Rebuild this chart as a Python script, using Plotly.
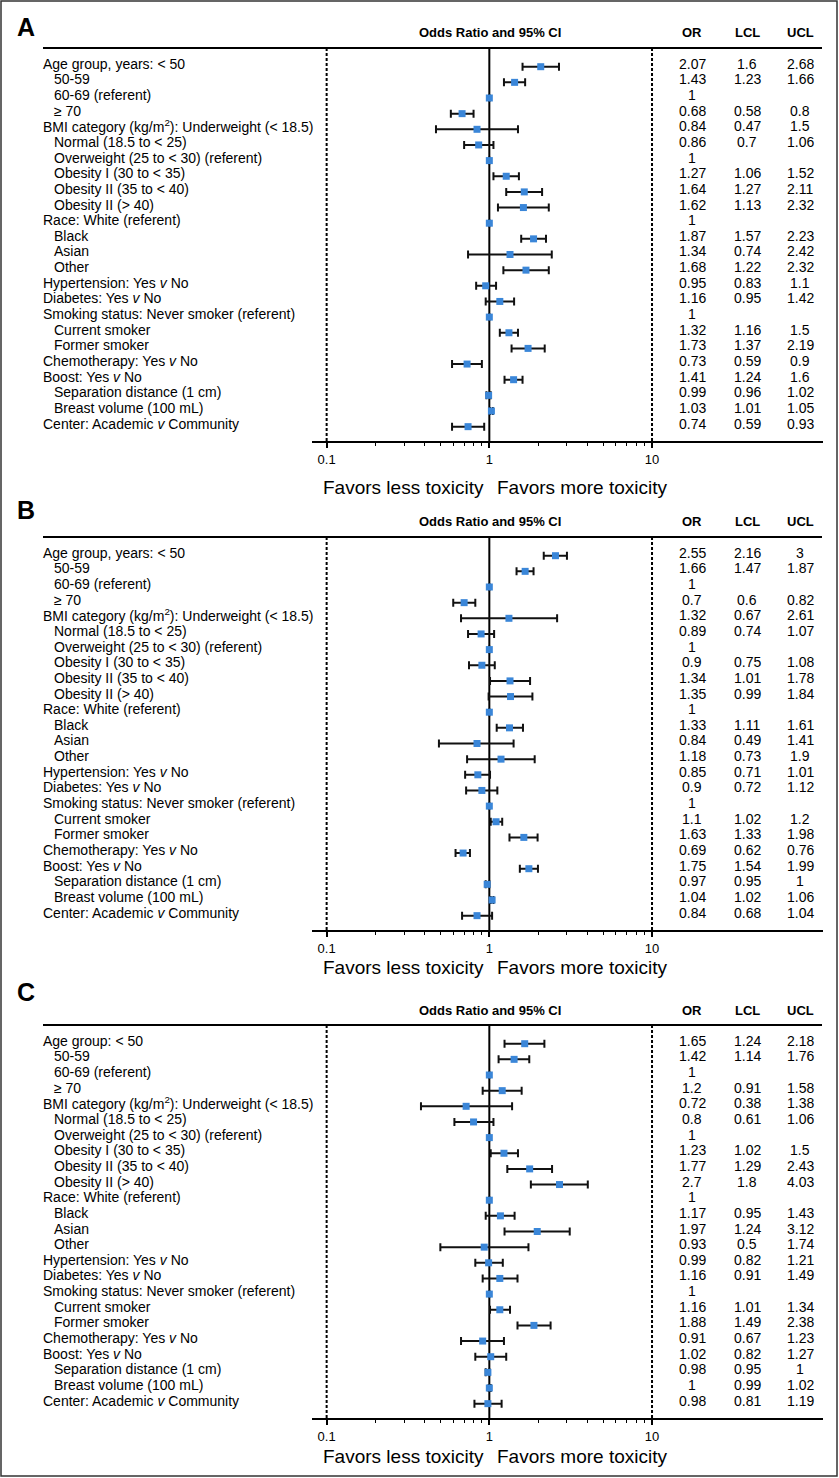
import plotly.graph_objects as go

W, H = 839, 1478

labels_A = [
    "Age group, years: < 50", "50-59", "60-69 (referent)", "≥ 70",
    "BMI category (kg/m<sup>2</sup>): Underweight (< 18.5)",
    "Normal (18.5 to < 25)", "Overweight (25 to < 30) (referent)",
    "Obesity I (30 to < 35)", "Obesity II (35 to < 40)", "Obesity II (> 40)",
    "Race: White (referent)", "Black", "Asian", "Other",
    "Hypertension: Yes <i>v</i> No", "Diabetes: Yes <i>v</i> No",
    "Smoking status: Never smoker (referent)", "Current smoker", "Former smoker",
    "Chemotherapy: Yes <i>v</i> No", "Boost: Yes <i>v</i> No",
    "Separation distance (1 cm)", "Breast volume (100 mL)",
    "Center: Academic <i>v</i> Community",
]
labels_B = list(labels_A)
labels_C = ["Age group: < 50"] + labels_A[1:]
indent = [0, 1, 1, 1, 0, 1, 1, 1, 1, 1, 0, 1, 1, 1, 0, 0, 0, 1, 1, 0, 0, 1, 1, 0]

or_A = [2.07, 1.43, 1, 0.68, 0.84, 0.86, 1, 1.27, 1.64, 1.62, 1, 1.87, 1.34, 1.68,
        0.95, 1.16, 1, 1.32, 1.73, 0.73, 1.41, 0.99, 1.03, 0.74]
lcl_A = [1.6, 1.23, None, 0.58, 0.47, 0.7, None, 1.06, 1.27, 1.13, None, 1.57, 0.74, 1.22,
         0.83, 0.95, None, 1.16, 1.37, 0.59, 1.24, 0.96, 1.01, 0.59]
ucl_A = [2.68, 1.66, None, 0.8, 1.5, 1.06, None, 1.52, 2.11, 2.32, None, 2.23, 2.42, 2.32,
         1.1, 1.42, None, 1.5, 2.19, 0.9, 1.6, 1.02, 1.05, 0.93]

or_B = [2.55, 1.66, 1, 0.7, 1.32, 0.89, 1, 0.9, 1.34, 1.35, 1, 1.33, 0.84, 1.18,
        0.85, 0.9, 1, 1.1, 1.63, 0.69, 1.75, 0.97, 1.04, 0.84]
lcl_B = [2.16, 1.47, None, 0.6, 0.67, 0.74, None, 0.75, 1.01, 0.99, None, 1.11, 0.49, 0.73,
         0.71, 0.72, None, 1.02, 1.33, 0.62, 1.54, 0.95, 1.02, 0.68]
ucl_B = [3, 1.87, None, 0.82, 2.61, 1.07, None, 1.08, 1.78, 1.84, None, 1.61, 1.41, 1.9,
         1.01, 1.12, None, 1.2, 1.98, 0.76, 1.99, 1, 1.06, 1.04]

or_C = [1.65, 1.42, 1, 1.2, 0.72, 0.8, 1, 1.23, 1.77, 2.7, 1, 1.17, 1.97, 0.93,
        0.99, 1.16, 1, 1.16, 1.88, 0.91, 1.02, 0.98, 1, 0.98]
lcl_C = [1.24, 1.14, None, 0.91, 0.38, 0.61, None, 1.02, 1.29, 1.8, None, 0.95, 1.24, 0.5,
         0.82, 0.91, None, 1.01, 1.49, 0.67, 0.82, 0.95, 0.99, 0.81]
ucl_C = [2.18, 1.76, None, 1.58, 1.38, 1.06, None, 1.5, 2.43, 4.03, None, 1.43, 3.12, 1.74,
         1.21, 1.49, None, 1.34, 2.38, 1.23, 1.27, 1, 1.02, 1.19]

panel_letters = ["A", "B", "C"]
col_headers = ["OR", "LCL", "UCL"]
axis_title = "Odds Ratio and 95% CI"
favors_left = "Favors less toxicity"
favors_right = "Favors more toxicity"
tick_vals = [0.1, 1, 10]
tick_text = ["0.1", "1", "10"]
minor_vals = [0.2, 0.3, 0.4, 0.5, 0.6, 0.7, 0.8, 0.9, 2, 3, 4, 5, 6, 7, 8, 9]

panels = [
    (labels_A, or_A, lcl_A, ucl_A),
    (labels_B, or_B, lcl_B, ucl_B),
    (labels_C, or_C, lcl_C, ucl_C),
]

# ---- layout geometry (pixels) ----
offsets = [0, 489, 977]
letter_top = [18, 501, 983]
favors_y = [487, 968, 1456]
FONT = "Liberation Sans, Arial, sans-serif"
BLUE = "#3a86d8"


def px_x(p):
    return p / W


def px_y(p):
    return 1 - p / H


def fmt(v):
    return "" if v is None else f"{v:g}"


fig = go.Figure()
annotations = []
shapes = []
layout_axes = {}

for i, (labels, orv, lcl, ucl) in enumerate(panels):
    off = offsets[i]
    sfx = "" if i == 0 else str(i + 1)
    xname, yname = "x" + sfx, "y" + sfx
    rows = list(range(1, len(labels) + 1))
    plus = [None if u is None else u - o for o, u in zip(orv, ucl)]
    minus = [None if l is None else o - l for o, l in zip(orv, lcl)]
    fig.add_trace(go.Scatter(
        x=orv, y=rows, mode="markers", xaxis=xname, yaxis=yname,
        marker=dict(symbol="square", size=7, color=BLUE),
        error_x=dict(type="data", symmetric=False, array=plus, arrayminus=minus,
                     color="#111111", thickness=2, width=4),
        showlegend=False, hoverinfo="skip",
    ))
    top, bottom = 48 + off, 441 + off
    layout_axes["xaxis" + sfx] = dict(
        type="log", range=[-1.090, 2.051], domain=[px_x(312), px_x(823)],
        anchor=yname, showline=True, linewidth=2, linecolor="black",
        showgrid=False, zeroline=False, ticks="outside", ticklen=5, tickwidth=1.5,
        tickcolor="black", tickmode="array", tickvals=tick_vals, ticktext=tick_text,
        tickfont=dict(family=FONT, size=13, color="black"),
        minor=dict(tickmode="array", tickvals=minor_vals, ticks="outside",
                   ticklen=3, tickwidth=1, tickcolor="black", showgrid=False),
        fixedrange=True,
    )
    layout_axes["yaxis" + sfx] = dict(
        range=[24.917, -0.195], domain=[px_y(bottom), px_y(top)], anchor=xname,
        visible=False, fixedrange=True,
    )
    # header rule
    shapes.append(dict(type="line", xref="paper", yref="paper",
                       x0=px_x(43), x1=px_x(822), y0=px_y(top), y1=px_y(top),
                       line=dict(color="black", width=2)))
    # reference lines
    for xv, dash in [(0.1, "3px,2px"), (1, "solid"), (10, "3px,2px")]:
        shapes.append(dict(type="line", xref=xname, yref=yname + " domain",
                           x0=xv, x1=xv, y0=0, y1=1, layer="below",
                           line=dict(color="black", width=2, dash=dash)))
    # letter
    annotations.append(dict(text="<b>%s</b>" % panel_letters[i], xref="paper", yref="paper",
                            x=px_x(15), y=px_y(letter_top[i] + 9), xanchor="left",
                            yanchor="middle", showarrow=False,
                            font=dict(family=FONT, size=25, color="black")))
    # headers
    annotations.append(dict(text="<b>%s</b>" % axis_title, xref="paper", yref="paper",
                            x=px_x(490), y=px_y(33 + off), xanchor="center", yanchor="middle",
                            showarrow=False, font=dict(family=FONT, size=13, color="black")))
    for cx, h in zip([692, 747, 800], col_headers):
        annotations.append(dict(text="<b>%s</b>" % h, xref="paper", yref="paper",
                                x=px_x(cx), y=px_y(33 + off), xanchor="center",
                                yanchor="middle", showarrow=False,
                                font=dict(family=FONT, size=13, color="black")))
    # favors
    annotations.append(dict(text=favors_left, xref="paper", yref="paper",
                            x=px_x(486), y=px_y(favors_y[i]), xanchor="right", yanchor="middle",
                            showarrow=False, font=dict(family=FONT, size=19, color="black")))
    annotations.append(dict(text=favors_right, xref="paper", yref="paper",
                            x=px_x(495), y=px_y(favors_y[i]), xanchor="left", yanchor="middle",
                            showarrow=False, font=dict(family=FONT, size=19, color="black")))
    # row labels and table
    for r, lab, ind, o, l, u in zip(rows, labels, indent, orv, lcl, ucl):
        annotations.append(dict(text=lab, xref="paper", yref=yname, x=px_x(41 + 11 * ind),
                                y=r, yshift=3, xanchor="left", yanchor="middle",
                                showarrow=False, font=dict(family=FONT, size=14, color="black")))
        for cx, v in zip([692, 747, 800], [o, l, u]):
            if v is None:
                continue
            annotations.append(dict(text=fmt(v), xref="paper", yref=yname, x=px_x(cx),
                                    y=r, yshift=3, xanchor="center", yanchor="middle",
                                    showarrow=False,
                                    font=dict(family=FONT, size=14, color="black")))

# outer frame
shapes.append(dict(type="rect", xref="paper", yref="paper",
                   x0=px_x(1), x1=px_x(837), y0=px_y(1476), y1=px_y(1),
                   line=dict(color="#333333", width=1.5)))

fig.update_layout(
    width=W, height=H, margin=dict(l=0, r=0, t=0, b=0),
    paper_bgcolor="white", plot_bgcolor="white",
    annotations=annotations, shapes=shapes, showlegend=False,
    **layout_axes,
)

fig.write_html(
    "out.html",
    config={"displayModeBar": False},
    post_script="document.body.style.margin='0';document.body.style.overflow='hidden';",
)
